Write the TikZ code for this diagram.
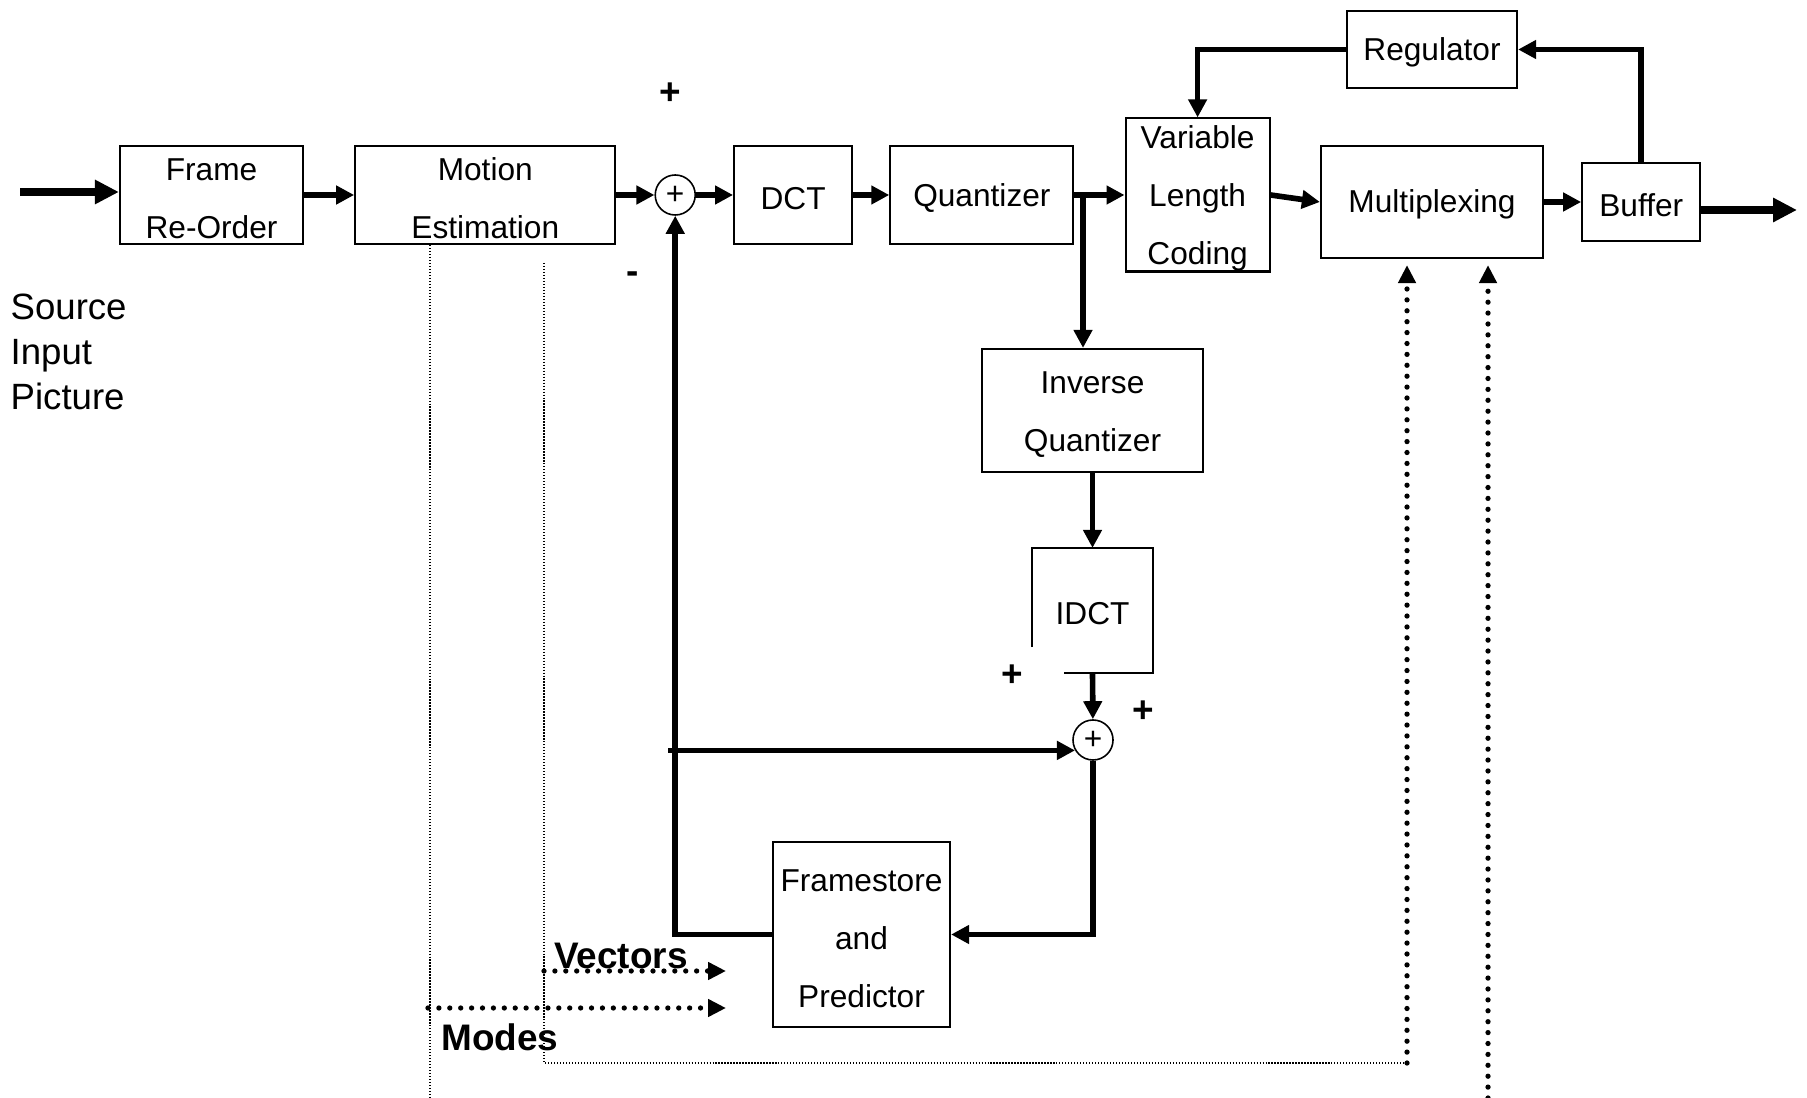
\documentclass[tikz,border=0pt]{standalone}
\usepackage{fontspec}
\setmainfont{Liberation Sans}
\usetikzlibrary{positioning}
\usetikzlibrary{arrows.meta}

% taller first row, so two- and three-line labels sit a bit lower
\newcommand{\firstrow}{\rule{0pt}{8.5pt}}

\tikzset{
	blk/.style={draw, line width=0.6pt, inner sep=0pt, align=center, font=\fontsize{9}{16.5}\selectfont, execute at begin node={\rule{0pt}{8.1pt}}},
	adder/.style={circle, draw, line width=0.45pt, minimum size=0.4cm, inner sep=0pt, font=\fontsize{9}{9}\selectfont},
	sgn/.style={inner sep=0pt, font=\fontsize{10.5}{10.5}\selectfont\bfseries},
	flow/.style={line width=1.6pt, -{Triangle[length=0.18cm,width=0.18cm]}},
	bigflow/.style={line width=2.1pt, -{Triangle[length=0.24cm,width=0.23cm]}},
	thindot/.style={line width=0.35pt, dash pattern=on 0.35pt off 0.5pt},
	dotflow/.style={line width=1.5pt, line cap=round, dash pattern=on 0pt off 3.1pt, -{Triangle[length=0.18cm,width=0.17cm]}},
}

\begin{document}
\begin{tikzpicture}[x=0.01cm, y=-0.01cm]
	\useasboundingbox (0,0) rectangle (1807,1098);
	%% forward path
	\node[blk, minimum width=1.83cm, minimum height=0.98cm] (frame) at (211.5,195) {\firstrow Frame\\Re-Order};
	\node[blk, minimum width=2.6cm, minimum height=0.98cm, right=0.50cm of frame] (motion) {\firstrow Motion\\Estimation};
	\node[adder, right=0.38cm of motion] (add1) {+};
	\node[blk, minimum width=1.18cm, minimum height=0.98cm, right=0.37cm of add1] (dct) {DCT};
	\node[blk, minimum width=1.83cm, minimum height=0.98cm, right=0.36cm of dct] (quant) {Quantizer};
	\node[blk, minimum width=1.44cm, minimum height=1.53cm, right=0.50cm of quant] (vlc) {\firstrow Variable\\Length\\Coding};
	\node[blk, minimum width=2.22cm, minimum height=1.12cm] (mux) at (1432,202) {Multiplexing};
	\node[blk, minimum width=1.18cm, minimum height=0.78cm, right=0.37cm of mux] (buf) {Buffer};
	\node[blk, minimum width=1.7cm, minimum height=0.77cm] (reg) at (1432,49.5) {Regulator};
	%% local decoder
	\node[blk, minimum width=2.21cm, minimum height=1.23cm] (iq) at (1092.5,410.5) {\firstrow Inverse\\Quantizer};
	\node[blk, draw=none, minimum width=1.19cm, minimum height=1.23cm] (idct) at (1092.5,610.5) {IDCT};
	\node[adder] (add2) at (1093,740) {+};
	\node[blk, minimum width=1.77cm, minimum height=1.85cm] (fsp) at (861.5,934.5) {\firstrow Framestore\\and\\Predictor};
	% IDCT box, corner left open
	\draw[line width=0.6pt] ([yshift=0.26cm]idct.south west) -- (idct.north west) -- (idct.north east) -- (idct.south east) -- ([xshift=0.32cm]idct.south west);
	%% labels
	\node[inner sep=0pt, anchor=west, align=left, font=\fontsize{10.4}{12.8}\selectfont] (srclbl) at (10,352) {Source\\Input\\Picture};
	\node[sgn] (p1) at (670,94) {+};
	\node[sgn] (m1) at (633,278) {-};
	\node[sgn] (p2) at (1012,676) {+};
	\node[sgn] (p3) at (1143,712) {+};
	\node[sgn] (veclbl) at (621,956) {Vectors};
	\node[sgn] (modlbl) at (500,1037) {Modes};
	%% free ends
	\coordinate (in) at (20,192);
	\coordinate (out) at (1797,210);
	\coordinate (qtap) at (1083,195);
	\coordinate (fbtap) at (668,750);
	\coordinate (mdbot) at (430,1098);
	\coordinate (mvtop) at (544,263);
	\coordinate (mvbend) at (544,1063);
	\coordinate (mxa) at (1407,1063);
	\coordinate (mxb) at (1488,1098);
	\coordinate (vecs) at (544,971);
	\coordinate (vece) at (726,971);
	\coordinate (mods) at (428,1008);
	\coordinate (mode) at (726,1008);
	% connections
	\draw[bigflow] (in) -- (frame.west |- in);
	\draw[flow] (frame) -- (motion);
	\draw[flow] (motion) -- (add1);
	\draw[flow] (add1) -- (dct);
	\draw[flow] (dct) -- (quant);
	\draw[flow] (quant) -- (vlc);
	\draw[flow] (vlc.east) -- (mux.west);
	\draw[flow] (mux) -- (buf);
	\draw[bigflow] (buf.east |- out) -- (out);
	\draw[flow] (buf.north) |- (reg.east);
	\draw[flow] (reg.west) -| (vlc.north);
	\draw[flow] (qtap) -- (qtap |- iq.north);
	\draw[flow] (iq) -- (idct.north);
	\draw[flow] (idct.south) -- (add2);
	\draw[flow] (add2) |- (fsp.east);
	\draw[flow] (fsp.west) -| (add1.south);
	\draw[flow] (fbtap |- add2.210) -- (add2.210);
	% side information
	\draw[thindot] (motion.south -| mdbot) -- (mdbot);
	\draw[thindot] (mvtop) -- (mvbend) -- (mxa);
	\draw[dotflow, shorten >=0.06cm] (mxa) -- (mxa |- mux.south);
	\draw[dotflow, shorten >=0.06cm] (mxb) -- (mxb |- mux.south);
	\draw[dotflow] (vecs) -- (vece);
	\draw[dotflow] (mods) -- (mode);
\end{tikzpicture}
\end{document}
